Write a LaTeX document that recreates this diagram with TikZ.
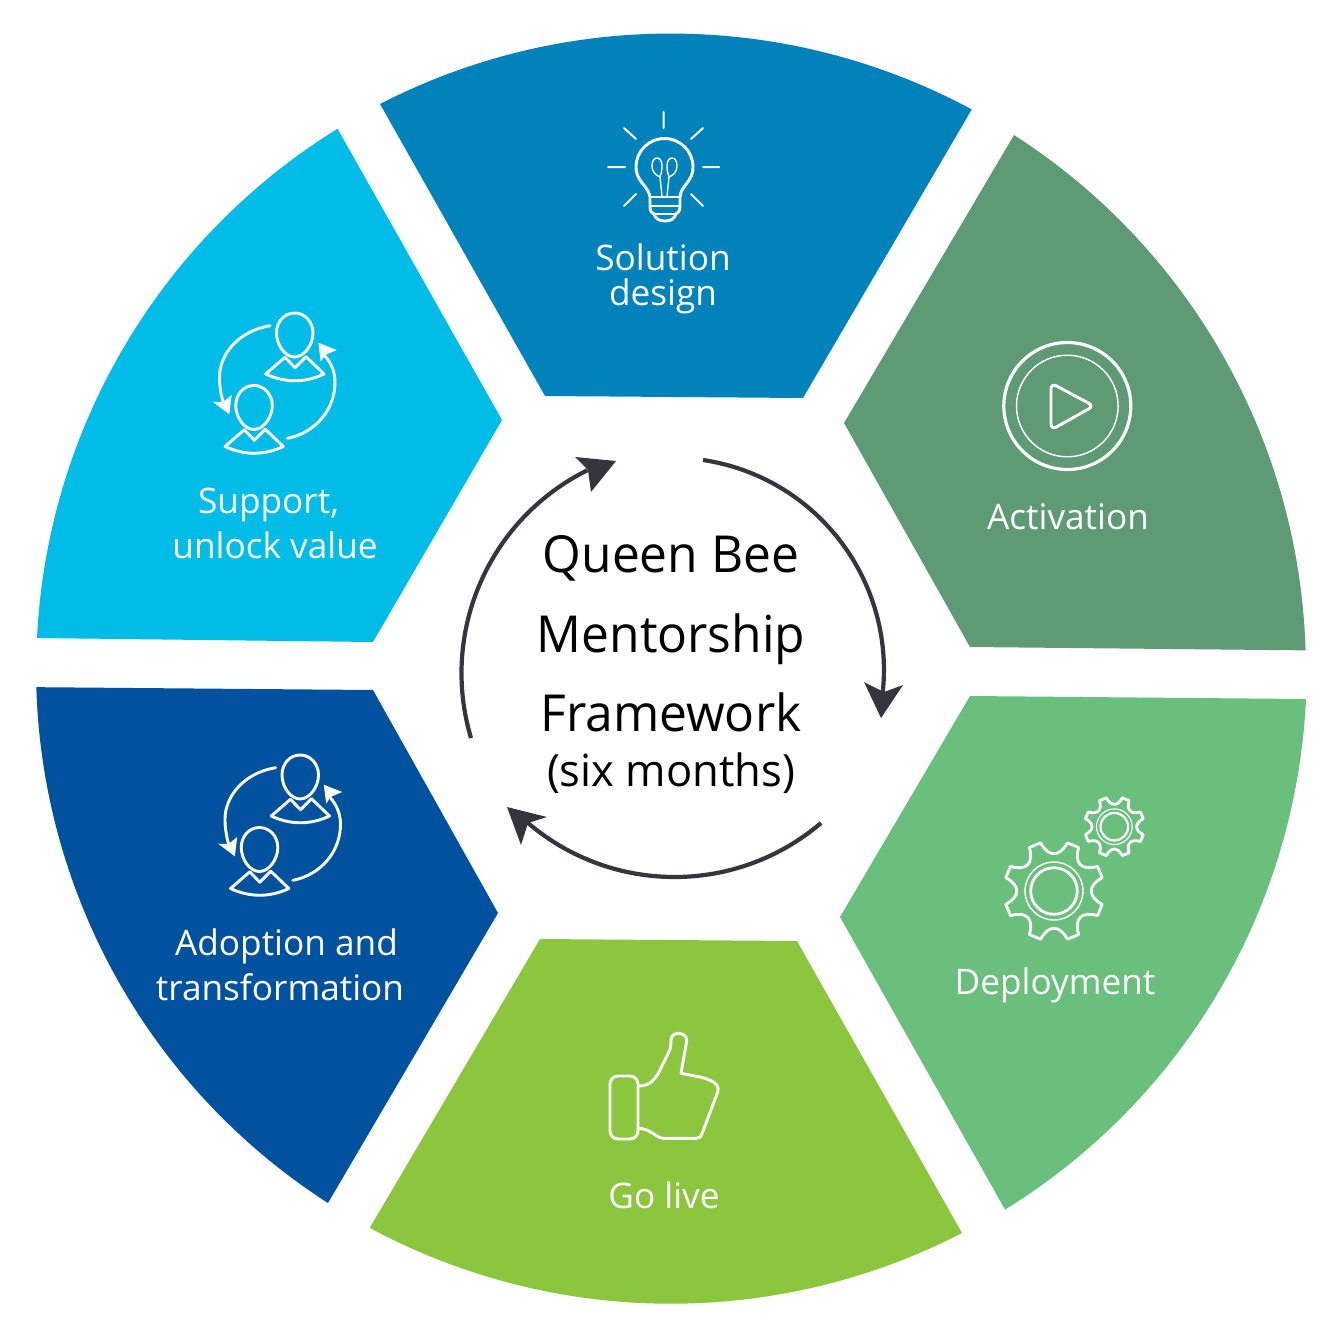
\documentclass[tikz,border=0pt]{standalone}
\usepackage{fontspec}
\setmainfont{Open Sans}
\newfontfamily\titlefont[FakeStretch=.975]{Open Sans}
\newfontfamily\subtitlefont[FakeStretch=.98]{Open Sans}
\definecolor{cSolution}{HTML}{0282BA}
\definecolor{cActivation}{HTML}{5E9B75}
\definecolor{cDeployment}{HTML}{6ABF7C}
\definecolor{cGolive}{HTML}{8CC63F}
\definecolor{cAdoption}{HTML}{00529F}
\definecolor{cSupport}{HTML}{00BCE7}
\definecolor{cArrow}{HTML}{34353F}
\tikzset{
  seglabel/.style={text=white,align=center,inner sep=0pt,font=\fontsize{17.6}{22.5}\selectfont},
  icon/.style={draw=white,line width=1.45pt,line join=round,line cap=round},
  iconthin/.style={draw=white,line width=.7pt},
  cyclearc/.style={draw=cArrow,line width=2.1pt},
  cyclehead/.style={fill=cArrow},
}
\newcommand{\personicon}{%
  \draw[icon] (294.7,313) .. controls (305,313) and (313,322) .. (313,333)
     .. controls (313,345) and (304,357) .. (294.7,357)
     .. controls (285,357) and (276.5,345) .. (276.5,333)
     .. controls (276.5,322) and (284,313) .. (294.7,313);
  \draw[icon] (285,357.3) -- (295,367.7) -- (306,356.7) -- (324,374)
     .. controls (305,383) and (285,383) .. (265.7,374) -- cycle;
}
\newcommand{\peopleicon}{%
  \personicon
  \begin{scope}[shift={(-40.7,72.5)}]\personicon\end{scope}
  \draw[icon] (270,325.7) .. controls (238,331) and (219,355) .. (219.5,378) .. controls (219.5,386) and (221,394) .. (223,402);
  \fill[white] (229.3,414.3) -- (212.7,401.7) -- (223,402) -- (231.7,395) -- cycle;
  \draw[icon] (287.3,438.3) .. controls (315,433) and (335,410) .. (335,382) .. controls (335,372) and (331,362) .. (324,355);
  \fill[white] (318.3,342.7) -- (336.7,350) -- (325,355) -- (320.7,361.7) -- cycle;
}
\newcommand{\gearoutline}{%
  \draw[draw=white,line width=1.4pt,line join=round] (15.5:50)
    \foreach \k in {0,...,7}{ -- (\k*45+29.5:50) .. controls (\k*45+36:34) and (\k*45+54:34) .. (\k*45+60.5:50)} -- cycle;
}
\begin{document}
\begin{tikzpicture}[x=.5pt,y=-.5pt]
\useasboundingbox (0,0) rectangle (1342,1338);
% segments
\fill[cSolution] (380,104) arc[start angle=-117.25,end angle=-61.7,radius=635] -- (803,398) -- (545,396) -- cycle;
\fill[cActivation] (1014,135) arc[start angle=-57.29,end angle=-1.71,radius=635] -- (970,647) -- (844,423) -- cycle;
\fill[cDeployment] (1306,699) arc[start angle=2.7,end angle=58.34,radius=635] -- (840,917) -- (970,696) -- cycle;
\fill[cGolive] (962,1233) arc[start angle=62.7,end angle=118.3,radius=635] -- (540,939) -- (797,941) -- cycle;
\fill[cAdoption] (328,1203) arc[start angle=122.7,end angle=178.33,radius=635] -- (373,690) -- (498,913) -- cycle;
\fill[cSupport] (37,638) arc[start angle=182.8,end angle=238.3,radius=635] -- (502,420) -- (373,642) -- cycle;
% centre cycle
\draw[cyclearc] (703,460) arc[start angle=-81.5,end angle=5.9,radius=212.3];
\fill[cyclehead] (881,718) -- (864,682) -- (884,692) -- (903,685) -- cycle;
\draw[cyclearc] (821,823) .. controls (736.5,895) and (612.5,895) .. (528,823);
\fill[cyclehead] (507,807) -- (547,817) -- (528,823) -- (521,845) -- cycle;
\draw[cyclearc] (471,738) arc[start angle=163.36,end angle=243.66,radius=226.5];
\fill[cyclehead] (616,461) -- (575,457) -- (588,470) -- (591,492) -- cycle;
\node[inner sep=0pt,align=center,font=\titlefont\fontsize{25.5}{39.75}\selectfont] (title) at (671,634) {Queen Bee\\Mentorship\\Framework};
\node[inner sep=0pt,font=\subtitlefont\fontsize{22.2}{27}\selectfont] (subtitle) at (671,773) {(six months)};
% labels
\node[seglabel,font=\fontsize{17.6}{17.2}\selectfont] (solution) at (663,279) {Solution\\design};
\node[seglabel] (activation) at (1068,517) {Activation};
\node[seglabel] (deployment) at (1055,985) {Deployment};
\node[seglabel] (golive) at (664,1195) {Go live};
\node[seglabel] (adoption) at (280,965) {\hspace*{6.5pt}Adoption and\\transformation};
\node[seglabel] (support) at (275,523) {Support,\hspace*{6.5pt}\\unlock value};
% bulb icon
\draw[icon,line width=1pt]
    (663.5,112) -- (663.5,128) (608,167) -- (625,167) (703,167) -- (719,167)
    (624,128) -- (636,139) (703,128) -- (691,139) (636,194) -- (624,206) (691,194) -- (703,206);
\draw[icon] (650,197) .. controls (648,185) and (636,182) .. (636,167)
     arc[start angle=180,end angle=360,radius=28.5]
     .. controls (693,182) and (681,185) .. (680,197) -- (680,207) .. controls (680,212) and (677,213) .. (676,214)
     .. controls (674,219) and (671,221) .. (665,221) .. controls (659,221) and (656,219) .. (654,214)
     .. controls (652,213) and (650,212) .. (650,207) -- cycle;
\draw[icon,line width=1.2pt] (650,197) -- (680,197) (650,206) -- (680,206) (654,214) -- (676,214);
\draw[icon,line width=.7pt] (662,196) -- (660,177) .. controls (655,175) and (652,171) .. (652,166)
     .. controls (652,161) and (654,158) .. (657,158) .. controls (660,158) and (662,161) .. (662,166)
     .. controls (662,171) and (661,174) .. (660,177);
\draw[icon,line width=.7pt] (667,196) -- (669,177) .. controls (674,175) and (677,171) .. (677,166)
     .. controls (677,161) and (675,158) .. (672,158) .. controls (669,158) and (667,161) .. (667,166)
     .. controls (667,171) and (668,174) .. (669,177);
% play icon
\draw[icon,line width=1.6pt] (1067.3,406) circle[radius=63.5];
\draw[iconthin] (1067.3,406) circle[radius=50.8];
\draw[icon,rounded corners=3pt] (1051,383) -- (1094,406) -- (1051,430) -- cycle;
% gears
\begin{scope}[shift={(1054,891)}]
  \gearoutline
  \draw[icon,line width=1.4pt] (0,0) circle[radius=23.3];
  \draw[iconthin] (0,0) circle[radius=29];
\end{scope}
\begin{scope}[shift={(1114.3,826.7)},scale=.6]
  \gearoutline
  \draw[icon,line width=1.1pt] (0,0) circle[radius=23];
  \draw[iconthin,line width=.55pt] (0,0) circle[radius=29.7];
\end{scope}
% thumb icon
\draw[icon] (610,1084) arc[start angle=180,end angle=270,radius=8] -- (630,1076) arc[start angle=270,end angle=360,radius=8] -- (638,1131) arc[start angle=0,end angle=90,radius=8] -- (618,1139) arc[start angle=90,end angle=180,radius=8] -- cycle;
\draw[icon] (638.3,1086) .. controls (650,1086) and (654,1080) .. (658.3,1073.3)
   -- (668.3,1053.3) .. controls (671,1048) and (671,1044) .. (671,1040)
   .. controls (671,1036) and (674,1033.3) .. (678.3,1033.3)
   .. controls (683,1033.3) and (687,1036) .. (686.7,1041) -- (681,1073.3)
   -- (700,1077) .. controls (712,1080) and (720,1084) .. (717.7,1092)
   -- (702.3,1133) .. controls (701,1137) and (699,1138.3) .. (696.7,1138.3)
   -- (663.3,1138.3) .. controls (657,1138.3) and (650,1128.3) .. (638.3,1128.3);
% people icons
\peopleicon
\begin{scope}[shift={(5.5,442)}]\peopleicon\end{scope}
\end{tikzpicture}
\end{document}
